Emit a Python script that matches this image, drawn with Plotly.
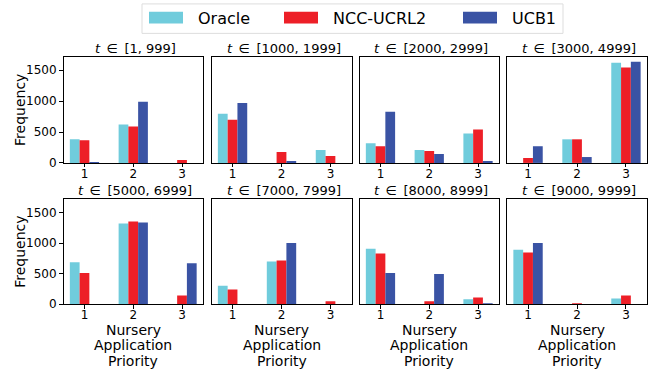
import plotly.graph_objects as go

W, H = 655, 377

categories = [1, 2, 3]
series_names = ["Oracle", "NCC-UCRL2", "UCB1"]
series_colors = ["#70CCDC", "#ED1F27", "#3A53A4"]
panel_titles = ["[1, 999]", "[1000, 1999]", "[2000, 2999]", "[3000, 4999]",
                "[5000, 6999]", "[7000, 7999]", "[8000, 8999]", "[9000, 9999]"]

oracle = [
    [382, 620, 0], [795, 0, 207], [318, 207, 477], [0, 382, 1622],
    [684, 1320, 0], [302, 700, 0], [906, 0, 80], [890, 0, 95],
]
ncc_ucrl2 = [
    [366, 588, 48], [700, 175, 111], [270, 191, 541], [80, 382, 1542],
    [509, 1352, 143], [239, 716, 48], [827, 48, 111], [843, 5, 143],
]
ucb1 = [
    [16, 991, 0], [970, 32, 0], [827, 143, 32], [270, 95, 1638],
    [0, 1336, 668], [0, 1002, 0], [509, 493, 5], [1002, 0, 0],
]
series_values = [oracle, ncc_ucrl2, ucb1]

y_ticks = [0, 500, 1000, 1500]
x_title_lines = ["Nursery", "Application", "Priority"]
y_title = "Frequency"

# pixel layout
col_px = [(63.5, 203), (211.5, 351.5), (359.5, 499), (507, 647)]
row_px = [(58, 166), (203, 310)]

FONT = "DejaVu Sans"
fig = go.Figure()
layout = {}
annotations = []

for p in range(8):
    r, c = divmod(p, 4)
    idx = p + 1
    xa = "xaxis" if idx == 1 else f"xaxis{idx}"
    ya = "yaxis" if idx == 1 else f"yaxis{idx}"
    xref = "x" if idx == 1 else f"x{idx}"
    yref = "y" if idx == 1 else f"y{idx}"
    x0, x1 = col_px[c]
    t0, t1 = row_px[r]
    for s in range(3):
        fig.add_trace(go.Bar(
            x=categories, y=series_values[s][p], name=series_names[s],
            marker=dict(color=series_colors[s], line=dict(width=0)),
            xaxis=xref, yaxis=yref, showlegend=False,
        ))
    layout[xa] = dict(
        domain=[x0 / W, x1 / W], anchor=yref, range=[0.57, 3.43],
        tickvals=categories, ticktext=[str(v) for v in categories],
        showline=True, mirror=True, linecolor="black", linewidth=1,
        ticks="outside", ticklen=3.5, tickwidth=0.8, tickcolor="black",
        ticklabelstandoff=-4,
        showgrid=False, zeroline=False,
        tickfont=dict(family=FONT, size=12, color="black"),
    )
    layout[ya] = dict(
        domain=[1 - t1 / H, 1 - t0 / H], anchor=xref, range=[0, 1715],
        tickvals=y_ticks, showticklabels=(c == 0),
        showline=True, mirror=True, linecolor="black", linewidth=1,
        ticks="outside" if c == 0 else "", ticklen=3.5, tickwidth=0.8, tickcolor="black",
        showgrid=False, zeroline=False,
        tickfont=dict(family=FONT, size=12, color="black"),
    )
    # subplot title
    annotations.append(dict(
        text="<i>t</i>\u2002∈\u2002" + panel_titles[p], x=((x0 + x1) / 2 + 2) / W, y=1 - (t0 - 9) / H,
        xref="paper", yref="paper", xanchor="center", yanchor="middle", showarrow=False,
        font=dict(family=FONT, size=13, color="black"),
    ))
    if r == 1:
        for k, line in enumerate(x_title_lines):
            annotations.append(dict(
                text=line, x=(x0 + x1) / 2 / W, y=1 - (336 + 16 * k) / H,
                xref="paper", yref="paper", xanchor="center", yanchor="middle", showarrow=False,
                font=dict(family=FONT, size=14, color="black"),
            ))
    if c == 0:
        annotations.append(dict(
            text=y_title, x=20 / W, y=1 - (t0 + t1) / 2 / H, textangle=-90,
            xref="paper", yref="paper", xanchor="center", yanchor="middle", showarrow=False,
            font=dict(family=FONT, size=14, color="black"),
        ))

# custom legend
shapes = [dict(type="rect", xref="paper", yref="paper",
               x0=142 / W, x1=563 / W, y0=1 - 34 / H, y1=1 - 4 / H,
               line=dict(color="#DDDDDD", width=1), fillcolor="white", layer="below")]
sw_x = [149, 284, 463]
for s in range(3):
    shapes.append(dict(type="rect", xref="paper", yref="paper",
                       x0=sw_x[s] / W, x1=(sw_x[s] + 34) / W, y0=1 - 24 / H, y1=1 - 12 / H,
                       line=dict(width=0), fillcolor=series_colors[s]))
    annotations.append(dict(
        text=series_names[s], x=(sw_x[s] + 47) / W, y=1 - 18.5 / H,
        xref="paper", yref="paper", xanchor="left", yanchor="middle", showarrow=False,
        font=dict(family=FONT, size=16, color="black"),
    ))

fig.update_layout(
    width=W, height=H, margin=dict(l=0, r=0, t=0, b=0),
    paper_bgcolor="white", plot_bgcolor="white",
    barmode="group", bargap=0.4, bargroupgap=0,
    annotations=annotations, shapes=shapes, showlegend=False,
    **layout,
)

fig.write_html("out.html")
